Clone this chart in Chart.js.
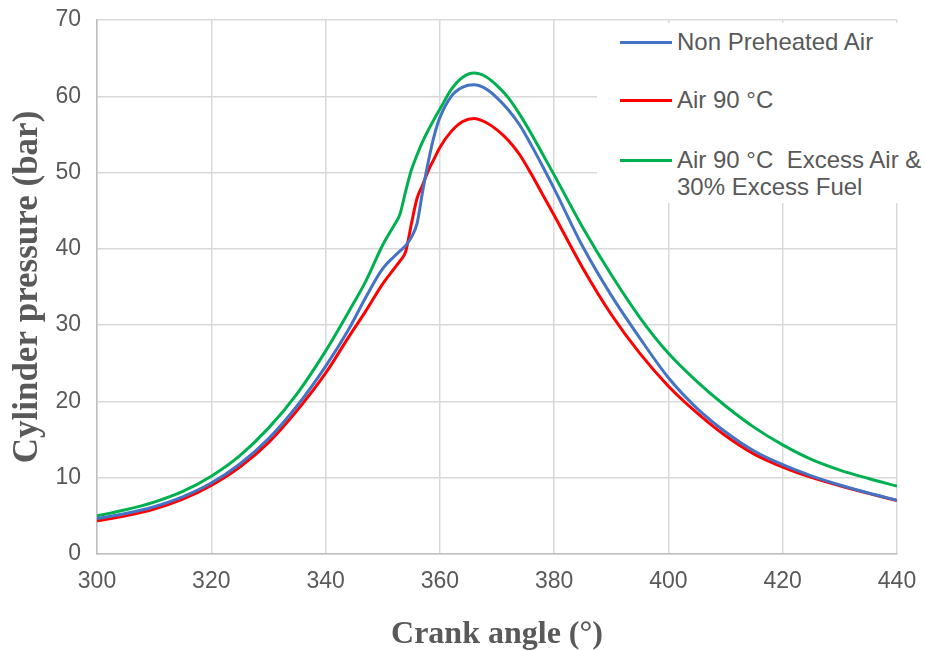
<!DOCTYPE html>
<html>
<head>
<meta charset="utf-8">
<script src="https://cdn.jsdelivr.net/npm/chart.js@4/dist/chart.umd.min.js"></script>
<style>
  html, body { margin: 0; padding: 0; background: #ffffff; }
  #wrap { position: relative; width: 925px; height: 651px; }
  #legend {
    position: absolute; left: 597px; top: 23px; width: 328px; height: 180px;
    background: #ffffff; font-family: "Liberation Sans", Arial, sans-serif;
    font-size: 24px; color: #595959;
  }
  .item { position: absolute; left: 23px; display: flex; align-items: flex-start; }
  .swatch { width: 52px; height: 3px; margin-right: 5px; }
  .txt { line-height: 27px; white-space: nowrap; }
</style>
</head>
<body>
<div id="wrap">
  <canvas id="c" width="925" height="651"></canvas>
  <div id="legend"></div>
</div>
<script>
// Crank angle (degrees)
const crankAngles = [300,305,310,315,320,325,330,335,340,344,347,350,352,353,354,355,356,357,358,359,360,362,364,366,368,370,372,374,376,378,380,385,390,395,400,405,410,415,420,425,430,435,440];

// Cylinder pressure (bar)
const nonPreheatedAir = [4.65,5.3,6.2,7.5,9.3,11.8,15.1,19.4,24.6,29.4,33.6,37.4,39.0,39.7,40.4,41.5,43.3,47.6,51.5,54.8,57.2,60.0,61.2,61.5,61.0,59.8,58.2,56.2,53.6,50.8,47.9,40.3,33.9,28.3,23.1,19.1,16.0,13.5,11.7,10.25,9.05,8.0,7.05];
const air90C = [4.35,5.0,5.9,7.2,9.0,11.4,14.6,18.8,23.7,28.4,31.8,35.4,37.4,38.4,39.6,43.2,46.6,48.4,50.3,51.8,53.3,55.4,56.7,57.1,56.6,55.6,54.2,52.3,49.8,47.1,44.4,37.5,31.4,26.3,22.0,18.5,15.5,13.1,11.4,10.05,8.95,7.95,7.0];
const air90CExcess = [5.0,5.8,6.8,8.2,10.2,12.9,16.5,21.0,26.6,31.7,35.7,40.5,43.1,44.5,47.5,50.3,52.3,54.1,55.6,57.0,58.3,60.9,62.5,63.05,62.6,61.4,59.8,57.6,55.1,52.4,49.7,42.8,36.6,31.0,26.3,22.6,19.4,16.6,14.3,12.4,11.0,9.9,8.9];

const seriesNames = ["Non Preheated Air", "Air 90 °C", "Air 90 °C  Excess Air & 30% Excess Fuel"];
const seriesColors = ["#4472C4", "#FF0000", "#00B050"];
const xTicks = [300,320,340,360,380,400,420,440];
const yTicks = [0,10,20,30,40,50,60,70];

const seriesValues = [nonPreheatedAir, air90C, air90CExcess];
const datasets = seriesValues.map((vals, k) => ({
  label: seriesNames[k],
  data: crankAngles.map((a, i) => ({ x: a, y: vals[i] })),
  borderColor: seriesColors[k],
  backgroundColor: seriesColors[k],
  borderWidth: 3,
  pointRadius: 0,
  cubicInterpolationMode: 'monotone',
  fill: false
}));

const tickFont = { family: '"Liberation Sans", Arial, sans-serif', size: 23 };
const xTitleFont = { family: '"Liberation Serif", "Times New Roman", serif', size: 32, weight: 'bold', lineHeight: 1.0 };
const yTitleFont = { family: '"Liberation Serif", "Times New Roman", serif', size: 35, weight: 'bold', lineHeight: 1.0 };

new Chart(document.getElementById('c'), {
  type: 'line',
  data: { datasets },
  options: {
    responsive: false,
    animation: false,
    layout: { padding: { top: 20, right: 28, left: 0, bottom: 0 } },
    plugins: { legend: { display: false }, tooltip: { enabled: false } },
    scales: {
      x: {
        type: 'linear', min: 300, max: 440,
        afterBuildTicks: s => { s.ticks = xTicks.map(v => ({ value: v })); },
        afterFit: s => { s.height = 97; s.paddingLeft = 0; s.paddingRight = 0; },
        grid: { color: '#D9D9D9', lineWidth: 1.5, drawTicks: false },
        border: { color: '#BFBFBF', width: 1.5 },
        ticks: { font: tickFont, color: '#595959', padding: 14, maxRotation: 0 },
        title: { display: true, text: 'Crank angle (°)', font: xTitleFont, color: '#595959', padding: { top: 0, bottom: 0 } }
      },
      y: {
        type: 'linear', min: 0, max: 70,
        afterBuildTicks: s => { s.ticks = yTicks.map(v => ({ value: v })); },
        afterFit: s => { s.width = 97; s.paddingTop = 0; s.paddingBottom = 0; },
        grid: { color: '#D9D9D9', lineWidth: 1.5, drawTicks: false },
        border: { color: '#BFBFBF', width: 1.5 },
        ticks: { font: tickFont, color: '#595959', padding: 16 },
        title: { display: true, text: 'Cylinder pressure (bar)', font: yTitleFont, color: '#595959', padding: { top: 10, bottom: 0 } }
      }
    }
  }
});

// HTML legend overlaid in the top-right of the plot
const legendTops = [5, 63, 123];
const legend = document.getElementById('legend');
seriesNames.forEach((name, k) => {
  const item = document.createElement('div');
  item.className = 'item';
  item.style.top = legendTops[k] + 'px';
  const sw = document.createElement('div');
  sw.className = 'swatch';
  sw.style.background = seriesColors[k];
  sw.style.marginTop = '13px';
  const tx = document.createElement('div');
  tx.className = 'txt';
  if (k === 2) { tx.innerHTML = 'Air 90 °C&nbsp; Excess Air &amp;<br>30% Excess Fuel'; }
  else { tx.textContent = name; }
  item.appendChild(sw);
  item.appendChild(tx);
  legend.appendChild(item);
});
</script>
</body>
</html>
